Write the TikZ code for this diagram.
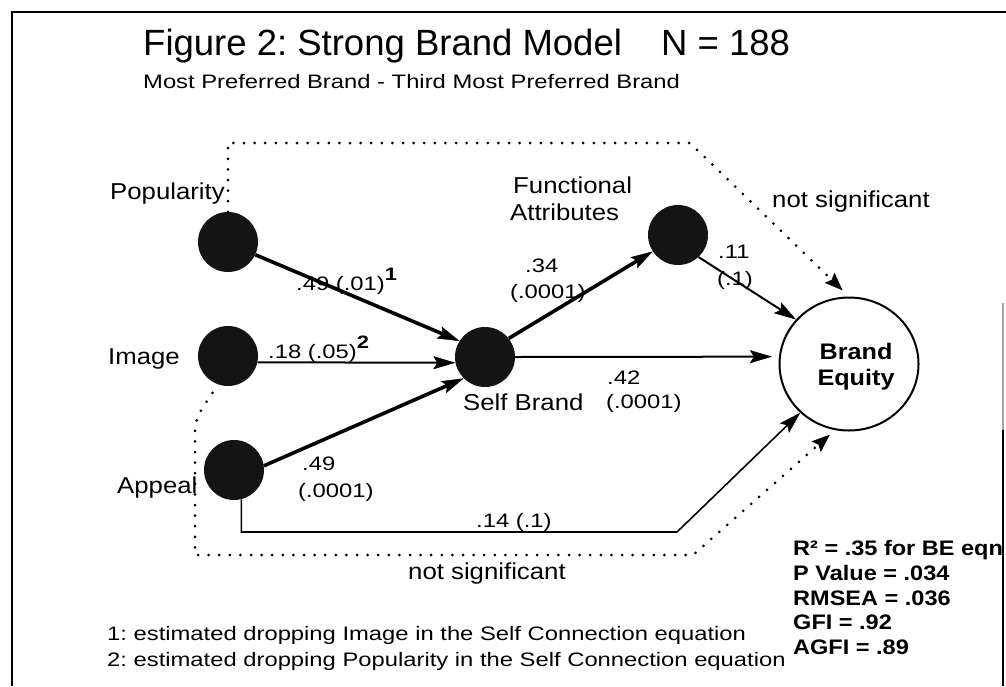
\documentclass[tikz,border=0pt]{standalone}
\usepackage{fontspec}
\setmainfont{Liberation Sans}
\newfontfamily\labfont[FakeStretch=1.12]{Liberation Sans}
\newfontfamily\smfont[FakeStretch=1.22]{Liberation Sans}
\usetikzlibrary{arrows.meta,shapes.geometric}
\newcommand\fnmark[1]{\raisebox{0.5em}{\bfseries\fontsize{18}{18}\selectfont #1}}
\frenchspacing

\begin{document}
\begin{tikzpicture}[x=1pt,y=-1pt,
  lat/.style={circle,fill=black!92,minimum size=60pt,inner sep=0pt},
  lab/.style={font=\labfont\fontsize{23}{26}\selectfont,inner sep=0pt,anchor=base west},
  num/.style={font=\smfont\fontsize{19.5}{26}\selectfont,inner sep=0pt,anchor=base west},
  stat/.style={font=\labfont\bfseries\fontsize{21}{24}\selectfont,inner sep=0pt,anchor=base west},
  arrowtip/.style={-{Stealth[length=22pt,width=13pt,inset=4pt,line width=0.4pt]}},
  heavyarr/.style={line width=3.6pt,arrowtip},
  midarr/.style={line width=2pt,arrowtip},
  lightarr/.style={line width=1.6pt,arrowtip},
  nsdots/.style={line width=3pt,line cap=round,dash pattern=on 0pt off 10.6pt,
    -{Stealth[length=18pt,width=14pt,inset=3pt,line width=0.4pt]}},
]
\useasboundingbox (0,0) rectangle (1006,686);

% outer frame
\draw[line width=2.6pt] (1006,12) -- (12,12) -- (12,686);
\draw[line width=2pt,black!35] (1003,303) -- (1003,430);
\draw[line width=2pt] (1003,430) -- (1003,686);

% headings
\node[font=\fontsize{36.5}{40}\selectfont,inner sep=0pt,anchor=base west] (title) at (143,55) {Figure 2: Strong Brand Model};
\node[font=\fontsize{36.5}{40}\selectfont,inner sep=0pt,anchor=base west] (nsize) at (661,55) {N = 188};
\node[num] (sub) at (143,88) {Most Preferred Brand - Third Most Preferred Brand};

% latent variables
\node[lat] (pop) at (228,242) {};
\node[lat] (img) at (228,356) {};
\node[lat] (app) at (234,470) {};
\node[lat] (self) at (485,357) {};
\node[lat] (func) at (678,235) {};
\node[draw,line width=2pt,ellipse,minimum width=139pt,minimum height=133pt,inner sep=0pt,fill=white] (be) at (849,364) {};
\node[font=\labfont\bfseries\fontsize{22.5}{26}\selectfont,inner sep=0pt,anchor=base] (beA) at (856,359) {Brand};
\node[font=\labfont\bfseries\fontsize{22.5}{26}\selectfont,inner sep=0pt,anchor=base] (beB) at (856,385) {Equity};

% variable labels
\node[lab] (lpop) at (110,199) {Popularity};
\node[lab] (limg) at (108,364) {Image};
\node[lab] (lapp) at (117,493) {Appeal};
\node[lab] (lfa) at (513,193) {Functional};
\node[lab] (lfb) at (510,220) {Attributes};
\node[lab] (lself) at (463,410) {Self Brand};
\node[lab] (ns1) at (772,207) {not significant};
\node[lab] (ns2) at (408,579) {not significant};

% path coefficients (p values)
\node[num] (c1) at (296,290) {.49 (.01)\fnmark{1}};
\node[num] (c2) at (268,358) {.18 (.05)\fnmark{2}};
\node[num] (c3a) at (525,272) {.34};
\node[num] (c3b) at (510,298) {(.0001)};
\node[num] (c4a) at (718,258) {.11};
\node[num] (c4b) at (717,285) {(.1)};
\node[num] (c5a) at (607,384) {.42};
\node[num] (c5b) at (606,408) {(.0001)};
\node[num] (c6a) at (302,470) {.49};
\node[num] (c6b) at (298,497) {(.0001)};
\node[num] (c7) at (476,527) {.14 (.1)};

% fit statistics
\node[stat] (s1) at (793,555) {R² = .35 for BE eqn};
\node[stat] (s2) at (793,580) {P Value = .034};
\node[stat] (s3) at (793,605) {RMSEA = .036};
\node[stat] (s4) at (793,629) {GFI = .92};
\node[stat] (s5) at (793,654) {AGFI = .89};

% footnotes
\node[num] (f1) at (107,640) {1: estimated dropping Image in the Self Connection equation};
\node[num] (f2) at (107,666) {2: estimated dropping Popularity in the Self Connection equation};

% bend points
\coordinate (t1) at (228,143);
\coordinate (t2) at (690,143);
\coordinate (b1) at (195,432);
\coordinate (b2) at (195,555);
\coordinate (b3) at (693,555);
\coordinate (k1) at (677,532);

% structural paths
\draw[heavyarr] (pop.-25) -- (self.148);
\draw[midarr] (img.-12) -- (self.191);
\draw[heavyarr] (app.8) -- (self.225);
\draw[heavyarr] (self.38) -- (func.213);
\draw[midarr] (func.-47) -- (be.140);
\draw[midarr,shorten >=7pt] (self.east) -- (be.174);
\draw[lightarr] (app.-76) |- (k1) -- (be.225);

% non-significant paths
\draw[nsdots,shorten >=9pt] (pop.north) -- (t1) -- (t2) -- (be.north);
\draw[nsdots,shorten <=10pt,shorten >=7pt] (img.250) .. controls (205,405) and (195,415) .. (b1) -- (b2) -- (b3) -- (be.258);
\end{tikzpicture}
\end{document}
